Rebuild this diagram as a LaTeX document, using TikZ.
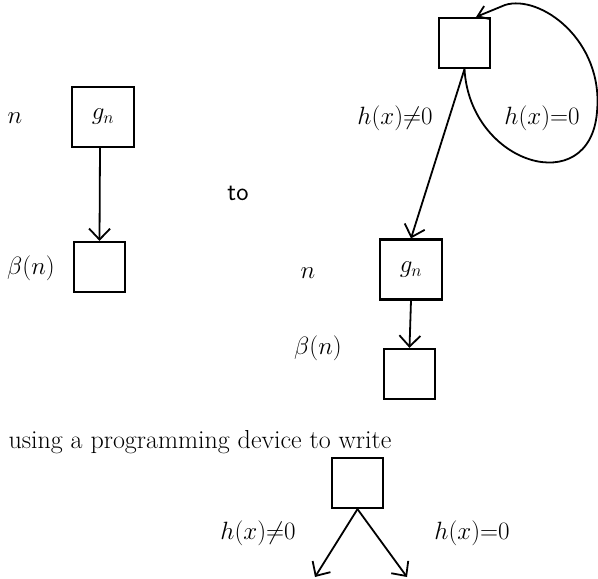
\RequirePackage{fix-cm}
\documentclass[tikz,border=0pt]{standalone}
\usetikzlibrary{arrows.meta}
\newcommand{\tightrel}[1]{\mathord{#1}}
\begin{document}
\begin{tikzpicture}[x=1pt,y=-1pt,font=\fontsize{25}{30}\selectfont]
    \tikzset{block/.style={rectangle, draw, line width=2.2pt, minimum width=51pt, minimum height=50pt, inner sep=0pt},
        wide/.style={block, minimum width=62pt, minimum height=60pt},
        flow/.style={draw, line width=1.8pt, -{Straight Barb[length=11pt,width=21pt,line width=1.8pt]}}};
    \useasboundingbox (0,0) rectangle (598,579);
    \node[wide] (gL) at (103,117) {$g_n$};
    \node[block] (bL) at (99.5,267) {};
    \node (nL) at (15,118) {$n$};
    \node (betaL) at (31,268) {$\beta(n)$};
    \draw[flow] ([xshift=-3pt]gL.south) -- (bL.north);
    \node[font=\fontsize{26}{30}\sffamily] (to) at (238,193) {to};
    \node[block] (T) at (464.5,43) {};
    \node[wide] (gR) at (411,269.5) {$g_n$};
    \node[block] (bR) at (409.5,374) {};
    \node (nR) at (308,273) {$n$};
    \node (betaR) at (318,348) {$\beta(n)$};
    \node (neR) at (395,118) {$h(x)\tightrel{\neq}0$};
    \node (eqR) at (542,118) {$h(x)\tightrel{=}0$};
    \draw[flow] (T.south) -- (gR.north);
    \draw[flow, -{Straight Barb[length=10pt,width=14pt,line width=1.8pt]}] (T.south) .. controls (470,165) and (590,200) .. (597,112)
        .. controls (604,40) and (540,-6) .. (505,5) -- ([xshift=-15pt]T.north east);
    \draw[flow] (gR.south) -- (bR.north);
    \node[anchor=west, font=\fontsize{26}{30}\selectfont] (use) at (5,442) {using a programming device to write};
    \node[block] (B) at (357.5,483) {};
    \coordinate (yes) at (315,577);
    \coordinate (no) at (407,577);
    \node (neB) at (258,533) {$h(x)\tightrel{\neq}0$};
    \node (eqB) at (472,533) {$h(x)\tightrel{=}0$};
    \draw[flow] (B.south) -- (yes);
    \draw[flow] (B.south) -- (no);
\end{tikzpicture}
\end{document}
